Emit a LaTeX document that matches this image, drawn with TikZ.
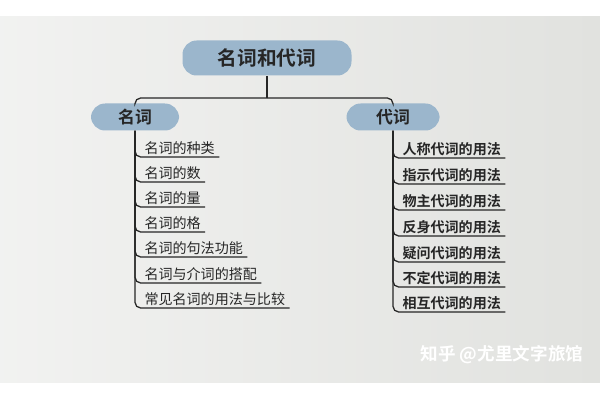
\documentclass[tikz,border=0pt]{standalone}
\usepackage{fontspec}
\setmainfont{Noto Sans CJK SC}[BoldFont={* Bold}]
\usetikzlibrary{positioning}
\definecolor{boxblue}{RGB}{155,182,204}
\definecolor{paper}{RGB}{225,226,223}
\definecolor{ink}{RGB}{38,38,38}

\begin{document}
\begin{tikzpicture}[
    x=0.025cm, y=-0.025cm,
    topic/.style={rectangle, rounded corners=10pt, fill=boxblue, text=ink, inner sep=0pt, font=\bfseries\fontsize{12}{12}\selectfont},
    item/.style={anchor=south west, inner xsep=3pt, inner ysep=1.5pt, text=ink, font=\fontsize{10}{10}\selectfont},
    branch/.style={draw=ink, line width=0.9pt, rounded corners=4pt},
    watermark/.style={text=white, font=\bfseries\fontsize{12.5}{12.5}\selectfont}
]
    \useasboundingbox (0,0) rectangle (600,400);
    % photographed page
    \shade[left color=white!55!paper, right color=paper] (0,17) rectangle (600,383);

    \node[topic, minimum width=169*0.025cm, minimum height=35*0.025cm, font=\bfseries\fontsize{14}{14}\selectfont] (title) at (267,58) {名词和代词};
    \node[topic, minimum width=88*0.025cm, minimum height=27*0.025cm] (noun) at (135,117) {名词};
    \node[topic, minimum width=93*0.025cm, minimum height=27*0.025cm] (pron) at (393,117) {代词};

    \coordinate (hub) at (267,98);
    \draw[branch] (title.south) -- (hub);
    \draw[branch] (hub) -| (noun.north);
    \draw[branch] (hub) -| (pron.north);

    % noun branch
    \node[item] (kind) at (140,157) {名词的种类};
    \node[item] (number) at (140,182) {名词的数};
    \node[item] (measure) at (140,207) {名词的量};
    \node[item] (case) at (140,232) {名词的格};
    \node[item] (syntax) at (140,257) {名词的句法功能};
    \node[item] (prep) at (140,283) {名词与介词的搭配};
    \node[item] (usage) at (140,308) {常见名词的用法与比较};

    \draw[branch] (noun.south) |- (kind.south east);
    \draw[branch] (noun.south) |- (number.south east);
    \draw[branch] (noun.south) |- (measure.south east);
    \draw[branch] (noun.south) |- (case.south east);
    \draw[branch] (noun.south) |- (syntax.south east);
    \draw[branch] (noun.south) |- (prep.south east);
    \draw[branch] (noun.south) |- (usage.south east);

    % pronoun branch
    \node[item, font=\bfseries\fontsize{10}{10}\selectfont] (personal) at (398,158) {人称代词的用法};
    \node[item, font=\bfseries\fontsize{10}{10}\selectfont] (demo) at (398,184) {指示代词的用法};
    \node[item, font=\bfseries\fontsize{10}{10}\selectfont] (poss) at (398,210) {物主代词的用法};
    \node[item, font=\bfseries\fontsize{10}{10}\selectfont] (refl) at (398,236) {反身代词的用法};
    \node[item, font=\bfseries\fontsize{10}{10}\selectfont] (inter) at (398,262) {疑问代词的用法};
    \node[item, font=\bfseries\fontsize{10}{10}\selectfont] (indef) at (398,287) {不定代词的用法};
    \node[item, font=\bfseries\fontsize{10}{10}\selectfont] (recip) at (398,312) {相互代词的用法};

    \draw[branch] (pron.south) |- (personal.south east);
    \draw[branch] (pron.south) |- (demo.south east);
    \draw[branch] (pron.south) |- (poss.south east);
    \draw[branch] (pron.south) |- (refl.south east);
    \draw[branch] (pron.south) |- (inter.south east);
    \draw[branch] (pron.south) |- (indef.south east);
    \draw[branch] (pron.south) |- (recip.south east);

    \node[watermark] (credit) at (502,355) {知乎 @尤里文字旅馆};
\end{tikzpicture}
\end{document}
